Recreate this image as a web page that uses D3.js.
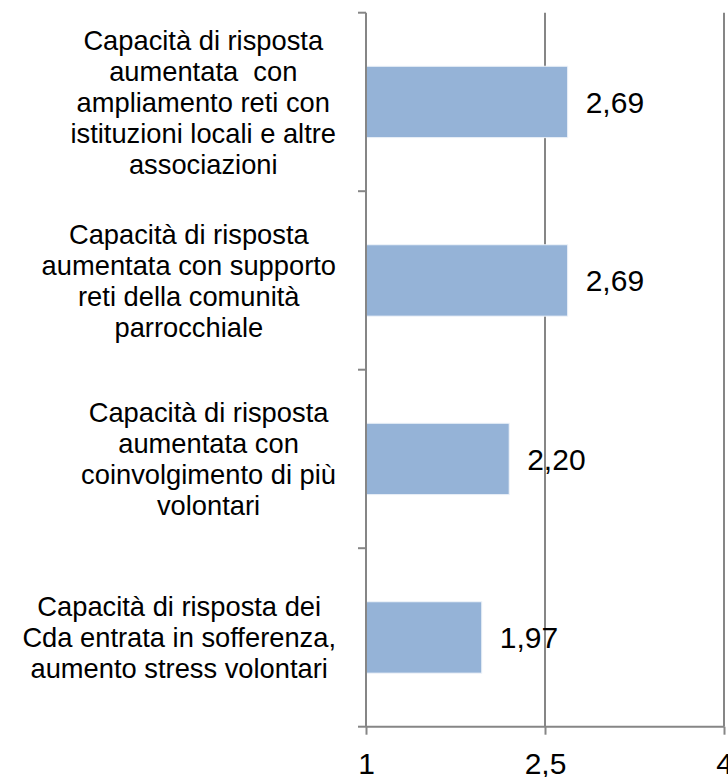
<!DOCTYPE html>
<html>
<head>
<meta charset="utf-8">
<script src="https://cdn.jsdelivr.net/npm/d3@7"></script>
<style>
  body { margin: 0; background: #fff; }
  svg text { font-family: "Liberation Sans", Arial, sans-serif; fill: #000; }
</style>
</head>
<body>
<div id="chart"></div>
<script>
// category labels, already broken into lines as in the original
var categories = [
  ["Capacità di risposta", "aumentata  con", "ampliamento reti con", "istituzioni locali e altre", "associazioni"],
  ["Capacità di risposta", "aumentata con supporto", "reti della comunità", "parrocchiale"],
  ["Capacità di risposta", "aumentata con", "coinvolgimento di più", "volontari"],
  ["Capacità di risposta dei", "Cda entrata in sofferenza,", "aumento stress volontari"]
];
var values = [2.69, 2.69, 2.20, 1.97];
var xTicks = [1, 2.5, 4];

var W = 728, H = 777;
var margin = { top: 12.7, right: 4, bottom: 50.3, left: 366 };
var width = 358;
var height = H - margin.top - margin.bottom;

var svg = d3.select("#chart")
  .append("svg")
  .attr("width", W)
  .attr("height", H)
  .append("g")
  .attr("transform", "translate(" + margin.left + "," + margin.top + ")");

var x = d3.scaleLinear().domain([1, 4]).range([0, width]);
var y = d3.scaleBand()
  .domain(d3.range(categories.length))
  .range([0, height])
  .paddingInner(0.6)
  .paddingOuter(0.3);

var fmt = function(v) { return v.toString().replace(".", ","); };
var fmt2 = function(v) { return v.toFixed(2).replace(".", ","); };

// vertical gridlines
svg.selectAll(".grid")
  .data(xTicks.slice(1))
  .enter()
  .append("line")
  .attr("x1", function(d) { return x(d); })
  .attr("x2", function(d) { return x(d); })
  .attr("y1", 0)
  .attr("y2", height)
  .attr("stroke", "#868686")
  .attr("stroke-width", 2);

// bars
svg.selectAll(".bar")
  .data(values)
  .enter()
  .append("rect")
  .attr("x", x(1))
  .attr("y", function(d, i) { return y(i); })
  .attr("width", function(d) { return x(d) - x(1); })
  .attr("height", y.bandwidth())
  .attr("fill", "#95b3d7")
  .attr("stroke", "#eef3f9")
  .attr("stroke-width", 1);

// value labels
svg.selectAll(".val")
  .data(values)
  .enter()
  .append("text")
  .attr("x", function(d) { return x(d) + 18; })
  .attr("y", function(d, i) { return y(i) + y.bandwidth() / 2; })
  .attr("dy", "0.36em")
  .style("font-size", "30px")
  .text(fmt2);

// x axis
var xAxis = d3.axisBottom(x).tickValues(xTicks).tickFormat(fmt).tickSize(8);
var gx = svg.append("g")
  .attr("transform", "translate(0," + height + ")")
  .call(xAxis);
gx.select(".domain").attr("stroke", "#868686").attr("stroke-width", 2).attr("d", "M0,0H" + x(4));
gx.selectAll(".tick line").attr("stroke", "#868686").attr("stroke-width", 2);
gx.selectAll(".tick text").style("font-size", "30px").attr("y", 47).attr("dy", 0);

// y axis line and category ticks
var bandEdges = d3.range(categories.length + 1).map(function(i) { return i * height / categories.length; });
svg.append("line")
  .attr("x1", 0).attr("x2", 0).attr("y1", 0).attr("y2", height)
  .attr("stroke", "#868686").attr("stroke-width", 2);
svg.selectAll(".ytick")
  .data(bandEdges)
  .enter()
  .append("line")
  .attr("x1", -8).attr("x2", 0)
  .attr("y1", function(d) { return d; })
  .attr("y2", function(d) { return d; })
  .attr("stroke", "#868686").attr("stroke-width", 2);

// category labels: each block is right-aligned next to the axis, lines centred within it
var fs = 27.3, lineH = 31, capH = 0.716 * fs, rightEdge = -30;
var labels = svg.selectAll(".cat")
  .data(categories)
  .enter()
  .append("text")
  .attr("text-anchor", "middle")
  .style("font-size", fs + "px");
labels.selectAll("tspan")
  .data(function(d) { return d; })
  .enter()
  .append("tspan")
  .attr("x", 0)
  .attr("y", function(d, i) { return i * lineH; })
  .style("white-space", "pre")
  .text(function(d) { return d; });
labels.attr("transform", function(d, i) {
  var widest = d3.max(d3.select(this).selectAll("tspan").nodes(), function(n) { return n.getComputedTextLength(); });
  var cy = y(i) + y.bandwidth() / 2;
  var firstBase = cy - ((d.length - 1) * lineH + capH) / 2 + capH;
  return "translate(" + (rightEdge - widest / 2) + "," + firstBase + ")";
});
</script>
</body>
</html>
